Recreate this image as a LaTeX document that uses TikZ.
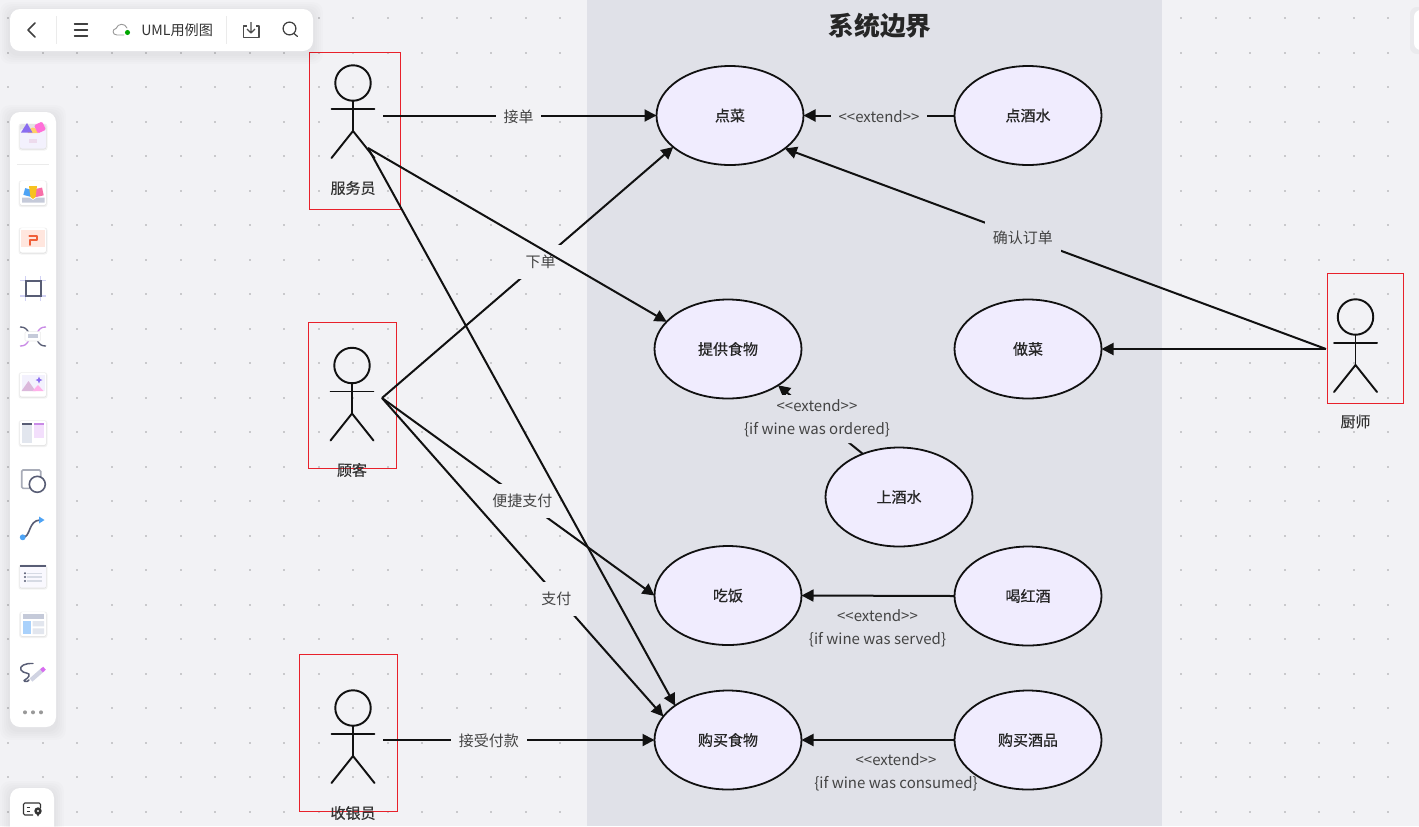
\documentclass[tikz,border=0pt]{standalone}
\usepackage{fontspec}
\setmainfont{Noto Sans CJK SC}
\newfontfamily\ucfont[FakeBold=0.5]{Noto Sans CJK SC}
\usetikzlibrary{arrows.meta,shapes.geometric}
\definecolor{bgc}{HTML}{F2F2F5}
\definecolor{bandc}{HTML}{E0E1E8}
\definecolor{ucfill}{HTML}{F0ECFE}
\definecolor{inkc}{HTML}{111111}
\definecolor{labc}{HTML}{444444}
\definecolor{dotc}{HTML}{C9C9CC}
\definecolor{boxred}{HTML}{E8212B}
\definecolor{slatec}{HTML}{585D75}
\definecolor{icpurple}{HTML}{8A6CF0}
\definecolor{icyellow}{HTML}{FFCF66}
\definecolor{icpink}{HTML}{FF6FD8}
\definecolor{icbox}{HTML}{F3F1FD}
\definecolor{icblue}{HTML}{4DA3F5}
\definecolor{icgold}{HTML}{F7C21F}
\definecolor{icrose}{HTML}{F86FA8}
\definecolor{ictray}{HTML}{C5CAD9}
\definecolor{icpale}{HTML}{FFE6DE}
\definecolor{icorange}{HTML}{F0603A}
\definecolor{icgray}{HTML}{E2E6EE}
\definecolor{iclav}{HTML}{F3DFFC}
\definecolor{icviolet}{HTML}{C98AE6}
\definecolor{icsky}{HTML}{A9D1FB}
\definecolor{icpen}{HTML}{D0D3E2}
\definecolor{icmag}{HTML}{D86CF0}
\tikzset{
  x=0.75pt,y=-0.75pt,
  usecase/.style={ellipse,draw=inkc,fill=ucfill,line width=1.35pt,minimum width=110.25pt,minimum height=74.25pt,inner sep=0pt,outer sep=0pt,text=black!85,font=\ucfont\fontsize{11.25}{13}\selectfont},
  actorbox/.style={rectangle,draw=boxred,line width=0.7pt,inner sep=0pt,outer sep=0pt},
  actorname/.style={inner sep=0pt,text=black!80,font=\ucfont\fontsize{11.25}{13}\selectfont},
  conn/.style={draw=inkc,line width=1.5pt,-{Triangle[length=9pt,width=9pt]}},
  edgelabelbg/.style={fill=bgc,text=labc,inner xsep=5.8pt,inner ysep=0pt,minimum height=25.5pt,yshift=-0.8pt,font=\fontsize{11.25}{13}\selectfont},
  edgelabelband/.style={edgelabelbg,fill=bandc},
  notelabel/.style={text=labc,inner sep=0pt,align=center,font=\fontsize{11.25}{17.2}\selectfont},
  panelc/.style={fill=white,rounded corners=7.5pt},
  card/.style={fill=white,rounded corners=1.5pt},
  stick/.style={draw=inkc,line width=1.45pt,line cap=round},
  barline/.style={draw=black!75,line width=1pt,line cap=round},
  divider/.style={draw=black!8,line width=0.75pt},
}
\newcommand{\softshadow}[5]{% x1 y1 x2 y2 radius
  \foreach \s in {10,8,6,4,2}{
    \fill[black,opacity=0.012,rounded corners=#5] (#1-\s,#2-\s+3) rectangle (#3+\s,#4+\s+3);
  }}
\newcommand{\cardshadow}[4]{%
  \fill[black,opacity=0.05,rounded corners=2pt] (#1-1.5,#2-0.5) rectangle (#3+1.5,#4+2);
  \fill[black,opacity=0.06,rounded corners=2pt] (#1-0.5,#2) rectangle (#3+0.5,#4+1);
}
\newcommand{\actorfig}[2]{% head centre
  \draw[stick] (#1,#2) circle[radius=13.3pt];
  \draw[stick] (#1-21.5,#2+26) -- (#1+21.5,#2+26);
  \draw[stick] (#1,#2+18) -- (#1,#2+48);
  \draw[stick] (#1-21.5,#2+75) -- (#1,#2+48) -- (#1+21.5,#2+75);
}
\begin{document}
\begin{tikzpicture}
\useasboundingbox (0,0) rectangle (1419,826);
\fill[bgc] (0,0) rectangle (1419,826);
% dotted grid
\foreach \i in {0,...,41}{
  \foreach \j in {0,...,23}{
    \fill[dotc] ({8.3+34.5*\i-1},{18+34.5*\j-1}) rectangle ++(2,2);
  }
}
% system boundary
\fill[bandc] (587,0) rectangle (1162,826);
\node[inner sep=0pt,text=black!85,font=\bfseries\fontsize{19.3}{22}\selectfont] (title) at (880,25.5) {系统边界};

% use cases
\node[usecase] (order) at (730,115.5) {点菜};
\node[usecase] (orderwine) at (1028,115.5) {点酒水};
\node[usecase] (serve) at (728,349) {提供食物};
\node[usecase] (cook) at (1028,349) {做菜};
\node[usecase] (servewine) at (899,497) {上酒水};
\node[usecase] (eat) at (728,595.5) {吃饭};
\node[usecase] (drink) at (1028,596) {喝红酒};
\node[usecase] (buy) at (728,740) {购买食物};
\node[usecase] (buywine) at (1028,740) {购买酒品};

% actors
\node[actorbox,minimum width=68.25pt,minimum height=117.75pt] (waiter) at (355,131) {};
\node[actorbox,minimum width=66pt,minimum height=109.5pt] (customer) at (352.5,395.5) {};
\node[actorbox,minimum width=73.5pt,minimum height=117.75pt] (cashier) at (348.5,733) {};
\node[actorbox,minimum width=57pt,minimum height=97.5pt] (chef) at (1365.5,338.5) {};
\actorfig{353}{83}
\actorfig{352}{365.5}
\actorfig{353}{708}
\actorfig{1355.5}{317}
\node[actorname] (waitername) at (353,188) {服务员};
\node[actorname] (customername) at (352,470) {顾客};
\node[actorname] (cashiername) at (353,813) {收银员};
\node[actorname] (chefname) at (1355.5,421.5) {厨师};

% connector free ends
\coordinate (waiterR) at (383,115.5);
\coordinate (waiterH) at (368,148);
\coordinate (customerH) at (382,398);
\coordinate (cashierR) at (383,740);
\coordinate (chefL) at (1326,349);

% connectors
\draw[conn] (customerH) -- (order.209.7) node[edgelabelbg,pos=0.545] (l1) {下单};
\draw[conn] (waiterR) -- (order.west) node[edgelabelbg,pos=0.496] (l2) {接单};
\draw[conn] (customerH) -- (eat.west) node[edgelabelbg,pos=0.515] (l3) {便捷支付};
\draw[conn] (customerH) -- (buy.160.8) node[edgelabelbg,pos=0.62,yshift=-1.5pt] (l4) {支付};
\draw[conn] (cashierR) -- (buy.west) node[edgelabelbg,pos=0.39] (l5) {接受付款};
\draw[conn] (waiterH) -- (serve.156.8);
\draw[conn] (waiterH) -- (buy.147.6);
\draw[conn] (orderwine) -- (order) node[edgelabelband,pos=0.5] (l6) {<{}<extend>{}>};
\draw[conn] (chefL) -- (order.-31.5) node[edgelabelband,pos=0.56] (l7) {确认订单};
\draw[conn] (chefL) -- (cook.east);
\draw[conn] (drink.west) -- (eat.east);
\draw[conn] (buywine.west) -- (buy.east);
\draw[conn] (servewine.130) -- (serve.-36);
% label background for the extend line: clears it without touching the ellipse above
\fill[bandc] (770,395) -- (895,395) -- (895,443) -- (740,443) -- (740,410) -- (770,410) -- cycle;
\node[notelabel] (n1) at (817,418) {<{}<extend>{}>\\\{if wine was ordered\}};
\node[notelabel] (n2) at (877.5,628) {<{}<extend>{}>\\\{if wine was served\}};
\node[notelabel] (n3) at (896,772) {<{}<extend>{}>\\\{if wine was consumed\}};

% ---- top toolbar
\softshadow{10}{9}{313}{51}{7.5pt}
\fill[panelc] (10,9) rectangle (313,51);
\draw[barline,line width=1.1pt,line join=round] (35,23) -- (28,30) -- (35,37);
\draw[divider] (56.5,16) -- (56.5,44);
\draw[barline] (74.5,24) -- (87.5,24) (74.5,30) -- (87.5,30) (74.5,36) -- (87.5,36);
\draw[draw=black!40,line width=0.7pt,line cap=round] (124,35) -- (117,35) .. controls (112,35) and (112,29) .. (116,28.5) .. controls (118,23) and (125,23) .. (127,28);
\fill[green!65!black] (127.5,32.5) circle[radius=1.9pt];
\node[inner sep=0pt,anchor=west,text=black!80,font=\fontsize{10.6}{12}\selectfont] (doctitle) at (141,30) {UML用例图};
\draw[divider] (226.5,16) -- (226.5,44);
\draw[draw=black!70,line width=0.85pt,line join=round] (247,26) -- (243.5,26) -- (243.5,37.5) -- (259,37.5) -- (259,26) -- (255.5,26);
\draw[draw=black!70,line width=0.85pt,line join=round] (251,22) -- (251,32.5) (247,29) -- (251,33) -- (255,29);
\draw[draw=black!75,line width=0.9pt,line cap=round] (289.5,28.5) circle[radius=4.8pt] (294,33.5) -- (297.5,36.5);
% top right stub
\fill[black,opacity=0.03,rounded corners=5pt] (1410,7) rectangle (1430,54);
\fill[white,rounded corners=5pt] (1414,10) rectangle (1430,50);

% ---- left panel
\softshadow{10}{112}{56}{727}{7.5pt}
\fill[panelc] (10,112) rectangle (56,727);
% icon 1
\cardshadow{20}{124}{46}{148.5}
\fill[icbox,rounded corners=1.5pt] (20,129) rectangle (46,148.5);
\fill[icyellow] (27.5,133) arc[start angle=180,end angle=0,radius=4.1pt] -- cycle;
\fill[icpurple] (21,132.5) -- (27,123) -- (32.5,132.5) -- cycle;
\fill[icpink,rounded corners=1pt,rotate around={25:(40,127.5)}] (35.5,123) rectangle (44.5,132);
\fill[violet!14!white] (29,139) rectangle (37,142.5);
\draw[divider] (17,164) -- (49,164);
% icon 2
\cardshadow{20}{181}{46}{205}
\fill[card] (20,181) rectangle (46,205);
\fill[icblue,rotate around={-15:(28,193)}] (24,189) rectangle (31.5,196);
\fill[icrose,rotate around={12:(38,192.5)}] (34,188.5) rectangle (43,196.5);
\fill[icgold] (29,186) -- (37,186) -- (35.5,197) -- (33,199) -- (30.5,197) -- cycle;
\fill[ictray] (22,197.5) -- (29,197.5) -- (33,200) -- (37,197.5) -- (44.5,197.5) -- (44.5,202.5) -- (22,202.5) -- cycle;
% icon 3
\cardshadow{20}{228}{46}{252.5}
\fill[card] (20,228) rectangle (46,252.5);
\fill[icpale] (21,230) rectangle (45,247);
\draw[icorange,line width=1.3pt,line join=round,line cap=round] (29.3,235.7) -- (37.3,235.7) -- (37.3,240) -- (30,240) -- (30,245);
% icon 4
\draw[black!25!blue!18!white,line width=1pt] (20,280.7) -- (46,280.7) (20,296) -- (46,296) (25.7,276) -- (25.7,301) (40.7,276) -- (40.7,301);
\draw[slatec,line width=1.2pt] (25.7,280.7) rectangle (40.7,296);
% icon 5
\draw[slatec,line width=1pt] (20,327) .. controls (24,327) and (26,328) .. (28.5,332);
\draw[icviolet,line width=1pt] (46,327) .. controls (42,327) and (40,328) .. (37.5,332);
\draw[icviolet,line width=1pt] (20,346) .. controls (24,346) and (26,345) .. (28.5,341);
\draw[slatec,line width=1pt] (46,346) .. controls (42,346) and (40,345) .. (37.5,341);
\fill[white,rounded corners=1pt] (25,331.7) rectangle (40.7,341);
\draw[black!8,line width=0.4pt,rounded corners=1pt] (25,331.7) rectangle (40.7,341);
\fill[ictray] (28.3,334.3) rectangle (37.7,338.3);
% icon 6
\cardshadow{20}{372.7}{46}{396.7}
\fill[card] (20,372.7) rectangle (46,396.7);
\fill[icbox] (21.5,374.5) rectangle (44.5,391);
\fill[violet!28!white] (21.5,391) -- (28.5,381) -- (35.5,391) -- cycle;
\fill[icpink!55!white] (32.5,391) -- (38,385) -- (43.5,391) -- cycle;
\fill[icpurple] (39,376.5) -- (40,379) -- (42.5,380) -- (40,381) -- (39,383.5) -- (38,381) -- (35.5,380) -- (38,379) -- cycle;
% icon 7
\cardshadow{20}{420.7}{46}{445}
\fill[card] (20,420.7) rectangle (46,445);
\fill[icgray] (22.3,422.7) rectangle (32,442.5);
\fill[slatec] (22.3,422.7) rectangle (32,424.5);
\fill[iclav] (34,422.7) rectangle (43.7,437.5);
\fill[icviolet] (34,422.7) rectangle (43.7,424.5);
% icon 8
\draw[ictray!85!black,line width=1.2pt,rounded corners=1pt] (21.7,470) rectangle (40.7,488.3);
\draw[slatec,fill=white,line width=1.2pt] (37.3,484.3) circle[radius=6pt];
% icon 9
\draw[slatec,line width=1.2pt,line cap=round] (22.7,537.3) .. controls (31,537.3) and (28,520.5) .. (40,520);
\fill[icblue] (22.7,537.3) circle[radius=2.2pt];
\fill[icblue] (39,516.5) -- (44.5,520) -- (39,523.5) -- cycle;
% icon 10
\cardshadow{20}{565}{46}{587.7}
\fill[icbox!50!white,rounded corners=1pt] (20,565) rectangle (46,587.7);
\fill[slatec] (20,565) rectangle (46,567);
\foreach \yy in {573.3,577,581}{
  \fill[slatec] (25,\yy) circle[radius=0.8pt];
  \draw[ictray!70!white,line width=1pt] (27.3,\yy) -- (42,\yy);
}
% icon 11
\cardshadow{20.7}{612}{46}{636}
\fill[card] (20.7,612) rectangle (46,636);
\fill[ictray] (23,614.3) rectangle (44,618.7);
\fill[icsky] (23,621) rectangle (30.7,634);
\fill[icgray] (32.7,621) rectangle (44,626.3) (32.7,628.3) rectangle (44,634);
% icon 12
\draw[slatec,line width=1.1pt,line cap=round,line join=round] (33,663.5) .. controls (25,663) and (19,666) .. (21,670) .. controls (23,674) and (31,672) .. (29,676) .. controls (27,680) and (22,680) .. (25,681.5) .. controls (27,682) and (28,681) .. (29,680);
\draw[icpen,line width=3.2pt] (31,680) -- (43,669.5);
\draw[icmag,line width=3pt] (41.5,670.8) -- (44.5,668.2);
% icon 13
\foreach \xx in {25,33,41}{\fill[black!40] (\xx,712.3) circle[radius=1.5pt];}

% ---- bottom panel
\softshadow{10}{788}{54}{840}{7.5pt}
\fill[panelc] (10,788) rectangle (54,840);
\draw[black!80,line width=0.85pt,rounded corners=1pt] (33,815) -- (23.5,815) -- (23.5,803) -- (40.5,803) -- (40.5,808);
\draw[black!80,line width=0.7pt] (26.5,807) -- (30,807) (26.5,811) -- (30,811);
\fill[black!80] (38,811) circle[radius=2.8pt];
\fill[black!80] (35.3,812) -- (38,816.5) -- (40.7,812) -- cycle;
\fill[white] (38,811) circle[radius=0.9pt];
\end{tikzpicture}
\end{document}
